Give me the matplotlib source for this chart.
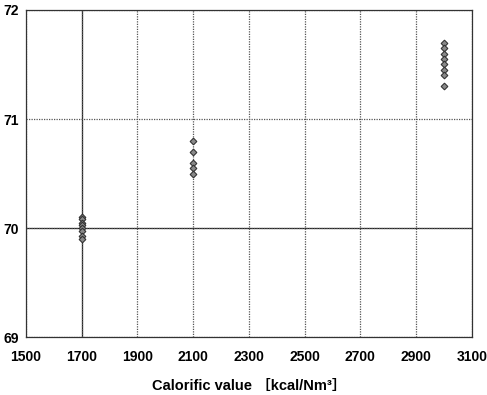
import matplotlib
matplotlib.use("Agg")
import matplotlib.pyplot as plt
import numpy as np

plt.rcParams['font.family'] = ['Liberation Sans', 'Noto Sans CJK JP', 'DejaVu Sans']

# calorific value groups and measured values
cv_1700 = [70.10, 70.08, 70.05, 70.03, 70.00, 69.97, 69.93, 69.90]
cv_2100 = [70.80, 70.70, 70.60, 70.55, 70.50]
cv_3000 = [71.70, 71.65, 71.60, 71.55, 71.50, 71.45, 71.40, 71.30]
groups = [(1700, cv_1700), (2100, cv_2100), (3000, cv_3000)]

x_ticks = [1500, 1700, 1900, 2100, 2300, 2500, 2700, 2900, 3100]
y_ticks = [69, 70, 71, 72]

fig = plt.figure(figsize=(4.87, 3.95), dpi=100)
ax = fig.add_axes([0.0534, 0.1468, 0.9156, 0.8279])

ax.grid(True, color="#555555", linestyle=(0, (1, 1)), lw=0.9, zorder=0)
# the 1700 / 70 lines print darker in the original
ax.axvline(1700, color="#222222", lw=0.9, zorder=1)
ax.axhline(70, color="#222222", lw=0.9, zorder=1)

for xv, ys in groups:
    ax.plot([xv] * len(ys), ys, linestyle="none", marker="D", ms=3.4,
            mfc="#8a8a8a", mec="#333333", mew=0.8, zorder=3)

ax.set_xlim(1500, 3100)
ax.set_ylim(69, 72)
ax.set_xticks(x_ticks)
ax.set_yticks(y_ticks)
ax.tick_params(length=0, labelsize=10)
ax.tick_params(axis="x", pad=9)
ax.tick_params(axis="y", pad=5)
for lab in ax.get_xticklabels() + ax.get_yticklabels():
    lab.set_fontweight("bold")
for s in ax.spines.values():
    s.set_color("#333333")
    s.set_linewidth(0.9)

ax.set_xlabel("Calorific value \uff3bkcal/Nm\u00b3\uff3d", fontsize=10.5,
              fontweight="bold", labelpad=11)

fig.savefig("out.png", dpi=100)
